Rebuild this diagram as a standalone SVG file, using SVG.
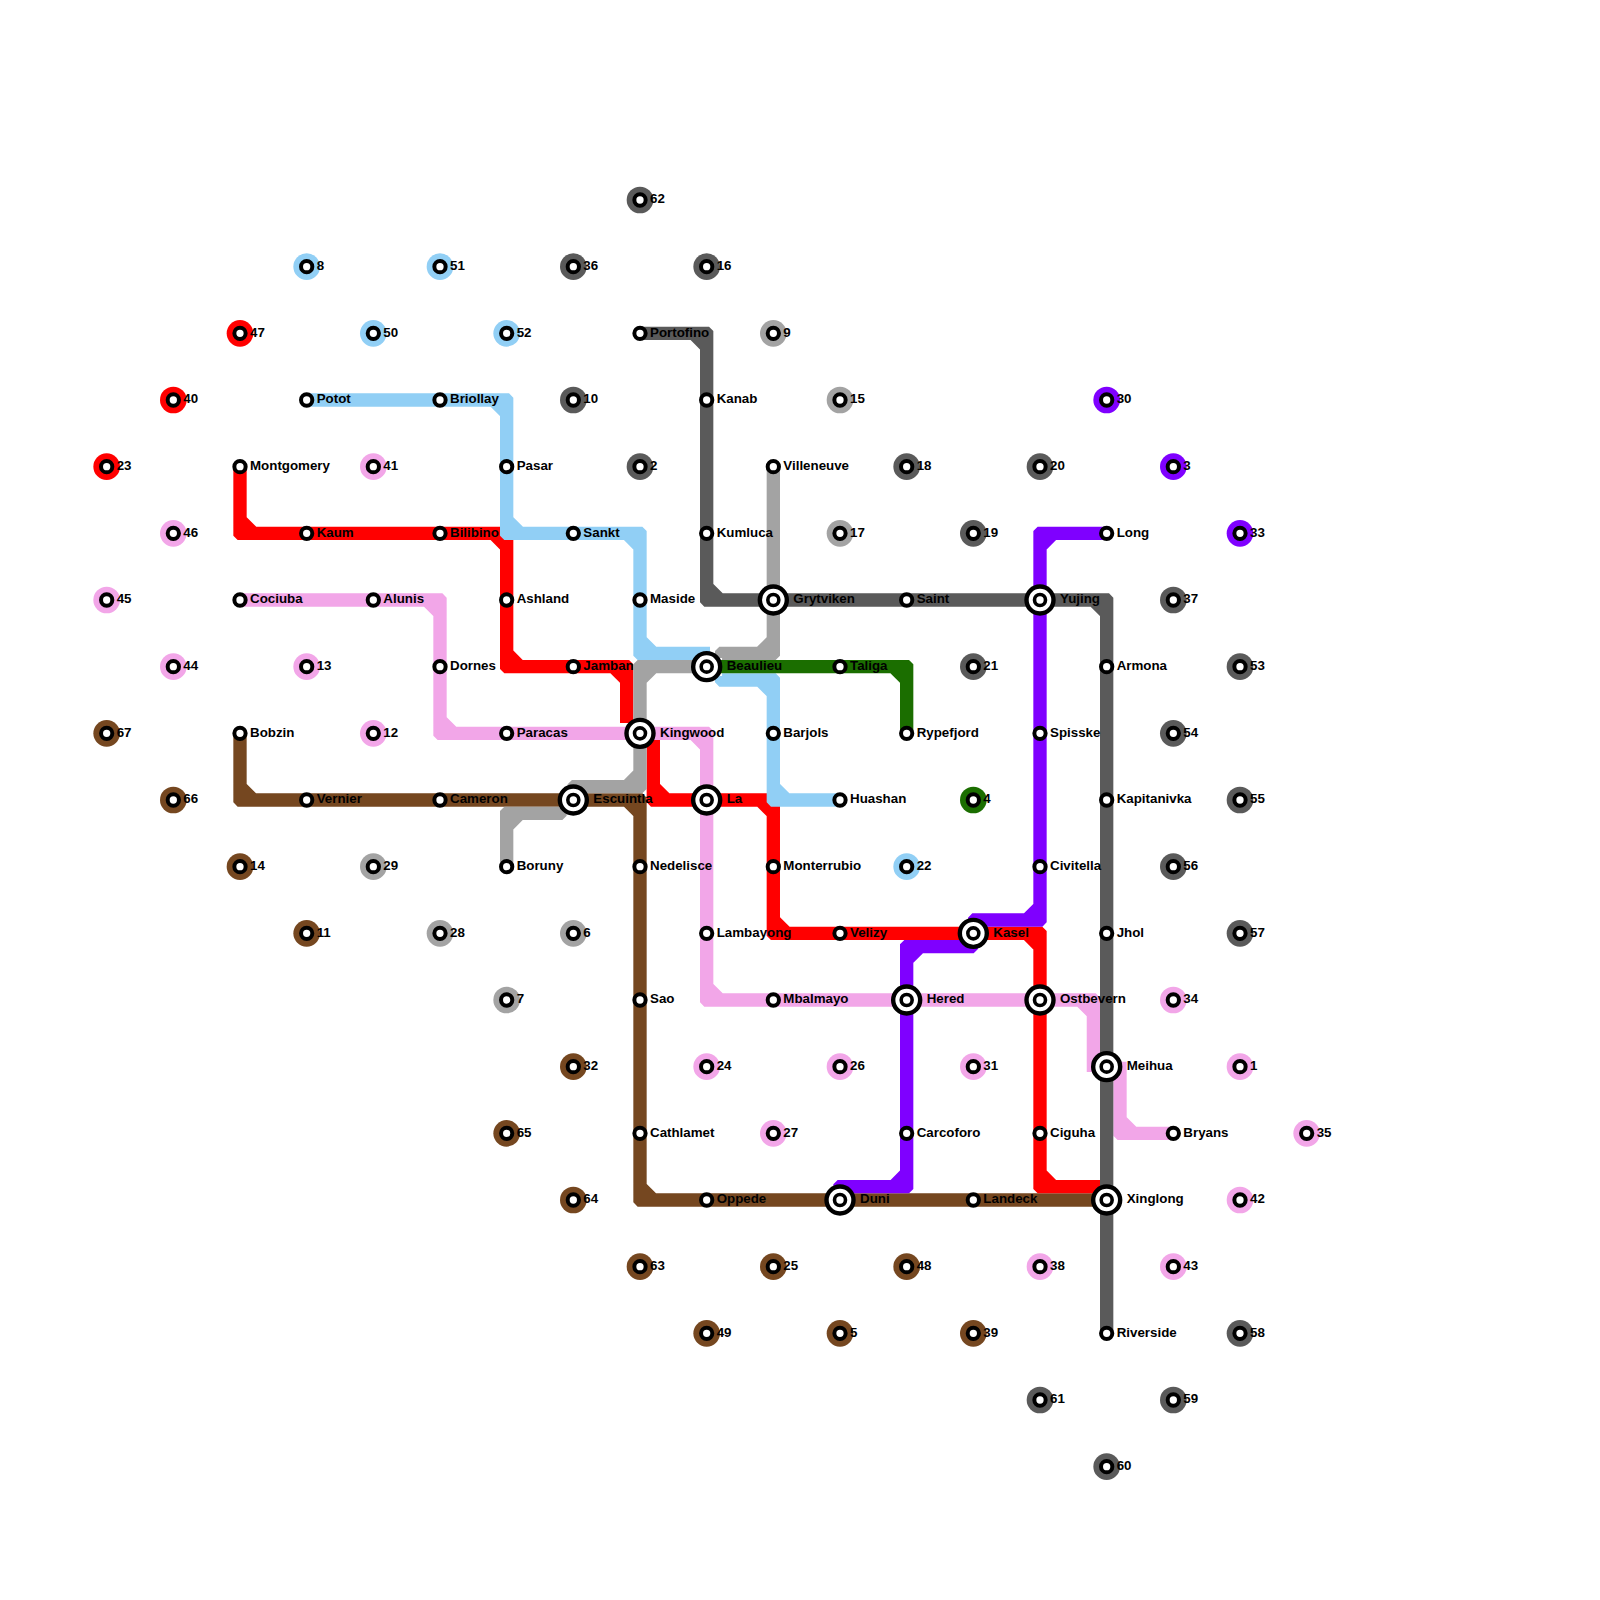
<svg xmlns="http://www.w3.org/2000/svg" width="1600" height="1600" viewBox="0 0 1600 1600">
<style>
.l{fill:none;stroke-width:13.33;stroke-linejoin:miter;stroke-linecap:butt}
.red{stroke:#ff0000}.blue{stroke:#91cff5}.pink{stroke:#f2a6e8}.brown{stroke:#754720}.grey{stroke:#a3a3a3}.dark{stroke:#5a5a5a}.green{stroke:#1b6e00}.purple{stroke:#7f00ff}
.fred{fill:#ff0000}.fblue{fill:#91cff5}.fpink{fill:#f2a6e8}.fbrown{fill:#754720}.fgrey{fill:#a3a3a3}.fdark{fill:#5a5a5a}.fgreen{fill:#1b6e00}.fpurple{fill:#7f00ff}
.s{fill:#fff;stroke:#000;stroke-width:4}
.o{stroke-width:4.4}
.i{stroke-width:3.6}
text{font-family:"Liberation Sans",Arial,sans-serif;font-weight:700;font-size:13.33px;fill:#000}
</style>
<defs>
<circle id="sm" class="s" r="5.65"/>
<g id="ix"><circle class="s o" r="13.5"/><circle class="s i" r="5.5"/></g>
<circle id="halo" r="13.33"/>
</defs>
<g id="connectors">
<path class="l pink" d="M240 600H439.6l.4.4V732.93l.4.4H706.27l.4.4V999.6l.4.4H1093l.4.4V1072M426.67 600L440 613.33M440 720L453.33 733.33M693.33 733.33L706.67 746.67M706.67 986.67L720 1000M1080 1000L1093.33 1013.33"/>
<path class="l pink" d="M1120 1061.67V1132.93l.4.4H1173.33M1120 1120L1133.33 1133.33"/>
<path class="l brown" d="M240 733.33V799.6l.4.4H639.6l.4.4V1199.6l.4.4H1106.67M240 786.67L253.33 800M626.67 800L640 813.33M640 1186.67L653.33 1200"/>
<path class="l red" d="M240 466.67V532.93l.4.4H506.27l.4.4V666.27l.4.4H626.27l.4.4V723M240 520L253.33 533.33M493.33 533.33L506.67 546.67M506.67 653.33L520 666.67M613.33 666.67L626.67 680"/>
<path class="l red" d="M653.33 740V799.6l.4.4H772.93l.4.4V932.93l.4.4H1039.6l.4.4V1186.27l.4.4H1104M653.33 786.67L666.67 800M760 800L773.33 813.33M773.33 920L786.67 933.33M1026.67 933.33L1040 946.67M1040 1173.33L1053.33 1186.67"/>
<path class="l blue" d="M306.67 400H506.27l.4.4V532.93l.4.4H639.6l.4.4V652.93l.4.4H710M493.33 400L506.67 413.33M506.67 520L520 533.33M626.67 533.33L640 546.67M640 640L653.33 653.33"/>
<path class="l blue" d="M721.67 676V679.6l.4.4H772.93l.4.4V799.6l.4.4H840M760 680L773.33 693.33M773.33 786.67L786.67 800"/>
<path class="l grey" d="M773.33 466.67V652.93l-.4.4H722.07l-.4.4V658M773.33 640L760 653.33"/>
<path class="l grey" d="M706.67 666.67H640.4l-.4.4V786.27l-.4.4H574.67l-.4.4V792M653.33 666.67L640 680M640 773.33L626.67 786.67"/>
<path class="l grey" d="M560 808V812.93l-.4.4H507.07l-.4.4V866.67M520 813.33L506.67 826.67"/>
<path class="l green" d="M706.67 666.67H906.27l.4.4V733.33M893.33 666.67L906.67 680"/>
<path class="l purple" d="M1106.67 533.33H1040.4l-.4.4V919.6l-.4.4H975.07l-.4.4V924M1053.33 533.33L1040 546.67M1040 906.67L1026.67 920"/>
<path class="l purple" d="M971.33 942V946.27l-.4.4H907.07l-.4.4V1186.27l-.4.4H840.4l-.4.4V1191M920 946.67L906.67 960M906.67 1173.33L893.33 1186.67"/>
<path class="l dark" d="M640 333.33H706.27l.4.4V599.6l.4.4H1106.27l.4.4V1333.33M693.33 333.33L706.67 346.67M706.67 586.67L720 600M1093.33 600L1106.67 613.33"/>
</g>
<g id="stations">
<g id="Potot" transform="translate(306.67,400)"><use href="#sm"/><text x="10" y="3.3">Potot</text></g>
<g id="Briollay" transform="translate(440,400)"><use href="#sm"/><text x="10" y="3.3">Briollay</text></g>
<g id="Pasar" transform="translate(506.67,466.67)"><use href="#sm"/><text x="10" y="3.3">Pasar</text></g>
<g id="Sankt" transform="translate(573.33,533.33)"><use href="#sm"/><text x="10" y="3.3">Sankt</text></g>
<g id="Maside" transform="translate(640,600)"><use href="#sm"/><text x="10" y="3.3">Maside</text></g>
<g id="Barjols" transform="translate(773.33,733.33)"><use href="#sm"/><text x="10" y="3.3">Barjols</text></g>
<g id="Huashan" transform="translate(840,800)"><use href="#sm"/><text x="10" y="3.3">Huashan</text></g>
<g id="Montgomery" transform="translate(240,466.67)"><use href="#sm"/><text x="10" y="3.3">Montgomery</text></g>
<g id="Kaum" transform="translate(306.67,533.33)"><use href="#sm"/><text x="10" y="3.3">Kaum</text></g>
<g id="Bilibino" transform="translate(440,533.33)"><use href="#sm"/><text x="10" y="3.3">Bilibino</text></g>
<g id="Ashland" transform="translate(506.67,600)"><use href="#sm"/><text x="10" y="3.3">Ashland</text></g>
<g id="Jamban" transform="translate(573.33,666.67)"><use href="#sm"/><text x="10" y="3.3">Jamban</text></g>
<g id="Monterrubio" transform="translate(773.33,866.67)"><use href="#sm"/><text x="10" y="3.3">Monterrubio</text></g>
<g id="Velizy" transform="translate(840,933.33)"><use href="#sm"/><text x="10" y="3.3">Velizy</text></g>
<g id="Ciguha" transform="translate(1040,1133.33)"><use href="#sm"/><text x="10" y="3.3">Ciguha</text></g>
<g id="Cociuba" transform="translate(240,600)"><use href="#sm"/><text x="10" y="3.3">Cociuba</text></g>
<g id="Alunis" transform="translate(373.33,600)"><use href="#sm"/><text x="10" y="3.3">Alunis</text></g>
<g id="Dornes" transform="translate(440,666.67)"><use href="#sm"/><text x="10" y="3.3">Dornes</text></g>
<g id="Paracas" transform="translate(506.67,733.33)"><use href="#sm"/><text x="10" y="3.3">Paracas</text></g>
<g id="Lambayong" transform="translate(706.67,933.33)"><use href="#sm"/><text x="10" y="3.3">Lambayong</text></g>
<g id="Mbalmayo" transform="translate(773.33,1000)"><use href="#sm"/><text x="10" y="3.3">Mbalmayo</text></g>
<g id="Bryans" transform="translate(1173.33,1133.33)"><use href="#sm"/><text x="10" y="3.3">Bryans</text></g>
<g id="Bobzin" transform="translate(240,733.33)"><use href="#sm"/><text x="10" y="3.3">Bobzin</text></g>
<g id="Vernier" transform="translate(306.67,800)"><use href="#sm"/><text x="10" y="3.3">Vernier</text></g>
<g id="Cameron" transform="translate(440,800)"><use href="#sm"/><text x="10" y="3.3">Cameron</text></g>
<g id="Nedelisce" transform="translate(640,866.67)"><use href="#sm"/><text x="10" y="3.3">Nedelisce</text></g>
<g id="Sao" transform="translate(640,1000)"><use href="#sm"/><text x="10" y="3.3">Sao</text></g>
<g id="Cathlamet" transform="translate(640,1133.33)"><use href="#sm"/><text x="10" y="3.3">Cathlamet</text></g>
<g id="Oppede" transform="translate(706.67,1200)"><use href="#sm"/><text x="10" y="3.3">Oppede</text></g>
<g id="Landeck" transform="translate(973.33,1200)"><use href="#sm"/><text x="10" y="3.3">Landeck</text></g>
<g id="Boruny" transform="translate(506.67,866.67)"><use href="#sm"/><text x="10" y="3.3">Boruny</text></g>
<g id="Villeneuve" transform="translate(773.33,466.67)"><use href="#sm"/><text x="10" y="3.3">Villeneuve</text></g>
<g id="Taliga" transform="translate(840,666.67)"><use href="#sm"/><text x="10" y="3.3">Taliga</text></g>
<g id="Rypefjord" transform="translate(906.67,733.33)"><use href="#sm"/><text x="10" y="3.3">Rypefjord</text></g>
<g id="Long" transform="translate(1106.67,533.33)"><use href="#sm"/><text x="10" y="3.3">Long</text></g>
<g id="Spisske" transform="translate(1040,733.33)"><use href="#sm"/><text x="10" y="3.3">Spisske</text></g>
<g id="Civitella" transform="translate(1040,866.67)"><use href="#sm"/><text x="10" y="3.3">Civitella</text></g>
<g id="Carcoforo" transform="translate(906.67,1133.33)"><use href="#sm"/><text x="10" y="3.3">Carcoforo</text></g>
<g id="Portofino" transform="translate(640,333.33)"><use href="#sm"/><text x="10" y="3.3">Portofino</text></g>
<g id="Kanab" transform="translate(706.67,400)"><use href="#sm"/><text x="10" y="3.3">Kanab</text></g>
<g id="Kumluca" transform="translate(706.67,533.33)"><use href="#sm"/><text x="10" y="3.3">Kumluca</text></g>
<g id="Saint" transform="translate(906.67,600)"><use href="#sm"/><text x="10" y="3.3">Saint</text></g>
<g id="Armona" transform="translate(1106.67,666.67)"><use href="#sm"/><text x="10" y="3.3">Armona</text></g>
<g id="Kapitanivka" transform="translate(1106.67,800)"><use href="#sm"/><text x="10" y="3.3">Kapitanivka</text></g>
<g id="Jhol" transform="translate(1106.67,933.33)"><use href="#sm"/><text x="10" y="3.3">Jhol</text></g>
<g id="Riverside" transform="translate(1106.67,1333.33)"><use href="#sm"/><text x="10" y="3.3">Riverside</text></g>
<g id="Grytviken" transform="translate(773.33,600)"><use href="#ix"/><text x="20" y="3.3">Grytviken</text></g>
<g id="Yujing" transform="translate(1040,600)"><use href="#ix"/><text x="20" y="3.3">Yujing</text></g>
<g id="Beaulieu" transform="translate(706.67,666.67)"><use href="#ix"/><text x="20" y="3.3">Beaulieu</text></g>
<g id="Kingwood" transform="translate(640,733.33)"><use href="#ix"/><text x="20" y="3.3">Kingwood</text></g>
<g id="Escuintla" transform="translate(573.33,800)"><use href="#ix"/><text x="20" y="3.3">Escuintla</text></g>
<g id="La" transform="translate(706.67,800)"><use href="#ix"/><text x="20" y="3.3">La</text></g>
<g id="Kasel" transform="translate(973.33,933.33)"><use href="#ix"/><text x="20" y="3.3">Kasel</text></g>
<g id="Hered" transform="translate(906.67,1000)"><use href="#ix"/><text x="20" y="3.3">Hered</text></g>
<g id="Ostbevern" transform="translate(1040,1000)"><use href="#ix"/><text x="20" y="3.3">Ostbevern</text></g>
<g id="Meihua" transform="translate(1106.67,1066.67)"><use href="#ix"/><text x="20" y="3.3">Meihua</text></g>
<g id="Xinglong" transform="translate(1106.67,1200)"><use href="#ix"/><text x="20" y="3.3">Xinglong</text></g>
<g id="Duni" transform="translate(840,1200)"><use href="#ix"/><text x="20" y="3.3">Duni</text></g>
</g>
<g id="terminals">
<g id="t62" class="fdark" transform="translate(640,200)"><use href="#halo"/><use href="#sm"/><text x="10" y="3.3">62</text></g>
<g id="t36" class="fdark" transform="translate(573.33,266.67)"><use href="#halo"/><use href="#sm"/><text x="10" y="3.3">36</text></g>
<g id="t16" class="fdark" transform="translate(706.67,266.67)"><use href="#halo"/><use href="#sm"/><text x="10" y="3.3">16</text></g>
<g id="t10" class="fdark" transform="translate(573.33,400)"><use href="#halo"/><use href="#sm"/><text x="10" y="3.3">10</text></g>
<g id="t2" class="fdark" transform="translate(640,466.67)"><use href="#halo"/><use href="#sm"/><text x="10" y="3.3">2</text></g>
<g id="t18" class="fdark" transform="translate(906.67,466.67)"><use href="#halo"/><use href="#sm"/><text x="10" y="3.3">18</text></g>
<g id="t20" class="fdark" transform="translate(1040,466.67)"><use href="#halo"/><use href="#sm"/><text x="10" y="3.3">20</text></g>
<g id="t19" class="fdark" transform="translate(973.33,533.33)"><use href="#halo"/><use href="#sm"/><text x="10" y="3.3">19</text></g>
<g id="t21" class="fdark" transform="translate(973.33,666.67)"><use href="#halo"/><use href="#sm"/><text x="10" y="3.3">21</text></g>
<g id="t37" class="fdark" transform="translate(1173.33,600)"><use href="#halo"/><use href="#sm"/><text x="10" y="3.3">37</text></g>
<g id="t53" class="fdark" transform="translate(1240,666.67)"><use href="#halo"/><use href="#sm"/><text x="10" y="3.3">53</text></g>
<g id="t54" class="fdark" transform="translate(1173.33,733.33)"><use href="#halo"/><use href="#sm"/><text x="10" y="3.3">54</text></g>
<g id="t55" class="fdark" transform="translate(1240,800)"><use href="#halo"/><use href="#sm"/><text x="10" y="3.3">55</text></g>
<g id="t56" class="fdark" transform="translate(1173.33,866.67)"><use href="#halo"/><use href="#sm"/><text x="10" y="3.3">56</text></g>
<g id="t57" class="fdark" transform="translate(1240,933.33)"><use href="#halo"/><use href="#sm"/><text x="10" y="3.3">57</text></g>
<g id="t58" class="fdark" transform="translate(1240,1333.33)"><use href="#halo"/><use href="#sm"/><text x="10" y="3.3">58</text></g>
<g id="t59" class="fdark" transform="translate(1173.33,1400)"><use href="#halo"/><use href="#sm"/><text x="10" y="3.3">59</text></g>
<g id="t60" class="fdark" transform="translate(1106.67,1466.67)"><use href="#halo"/><use href="#sm"/><text x="10" y="3.3">60</text></g>
<g id="t61" class="fdark" transform="translate(1040,1400)"><use href="#halo"/><use href="#sm"/><text x="10" y="3.3">61</text></g>
<g id="t8" class="fblue" transform="translate(306.67,266.67)"><use href="#halo"/><use href="#sm"/><text x="10" y="3.3">8</text></g>
<g id="t51" class="fblue" transform="translate(440,266.67)"><use href="#halo"/><use href="#sm"/><text x="10" y="3.3">51</text></g>
<g id="t50" class="fblue" transform="translate(373.33,333.33)"><use href="#halo"/><use href="#sm"/><text x="10" y="3.3">50</text></g>
<g id="t52" class="fblue" transform="translate(506.67,333.33)"><use href="#halo"/><use href="#sm"/><text x="10" y="3.3">52</text></g>
<g id="t22" class="fblue" transform="translate(906.67,866.67)"><use href="#halo"/><use href="#sm"/><text x="10" y="3.3">22</text></g>
<g id="t9" class="fgrey" transform="translate(773.33,333.33)"><use href="#halo"/><use href="#sm"/><text x="10" y="3.3">9</text></g>
<g id="t15" class="fgrey" transform="translate(840,400)"><use href="#halo"/><use href="#sm"/><text x="10" y="3.3">15</text></g>
<g id="t17" class="fgrey" transform="translate(840,533.33)"><use href="#halo"/><use href="#sm"/><text x="10" y="3.3">17</text></g>
<g id="t29" class="fgrey" transform="translate(373.33,866.67)"><use href="#halo"/><use href="#sm"/><text x="10" y="3.3">29</text></g>
<g id="t28" class="fgrey" transform="translate(440,933.33)"><use href="#halo"/><use href="#sm"/><text x="10" y="3.3">28</text></g>
<g id="t6" class="fgrey" transform="translate(573.33,933.33)"><use href="#halo"/><use href="#sm"/><text x="10" y="3.3">6</text></g>
<g id="t7" class="fgrey" transform="translate(506.67,1000)"><use href="#halo"/><use href="#sm"/><text x="10" y="3.3">7</text></g>
<g id="t47" class="fred" transform="translate(240,333.33)"><use href="#halo"/><use href="#sm"/><text x="10" y="3.3">47</text></g>
<g id="t40" class="fred" transform="translate(173.33,400)"><use href="#halo"/><use href="#sm"/><text x="10" y="3.3">40</text></g>
<g id="t23" class="fred" transform="translate(106.67,466.67)"><use href="#halo"/><use href="#sm"/><text x="10" y="3.3">23</text></g>
<g id="t41" class="fpink" transform="translate(373.33,466.67)"><use href="#halo"/><use href="#sm"/><text x="10" y="3.3">41</text></g>
<g id="t46" class="fpink" transform="translate(173.33,533.33)"><use href="#halo"/><use href="#sm"/><text x="10" y="3.3">46</text></g>
<g id="t45" class="fpink" transform="translate(106.67,600)"><use href="#halo"/><use href="#sm"/><text x="10" y="3.3">45</text></g>
<g id="t44" class="fpink" transform="translate(173.33,666.67)"><use href="#halo"/><use href="#sm"/><text x="10" y="3.3">44</text></g>
<g id="t13" class="fpink" transform="translate(306.67,666.67)"><use href="#halo"/><use href="#sm"/><text x="10" y="3.3">13</text></g>
<g id="t12" class="fpink" transform="translate(373.33,733.33)"><use href="#halo"/><use href="#sm"/><text x="10" y="3.3">12</text></g>
<g id="t34" class="fpink" transform="translate(1173.33,1000)"><use href="#halo"/><use href="#sm"/><text x="10" y="3.3">34</text></g>
<g id="t24" class="fpink" transform="translate(706.67,1066.67)"><use href="#halo"/><use href="#sm"/><text x="10" y="3.3">24</text></g>
<g id="t26" class="fpink" transform="translate(840,1066.67)"><use href="#halo"/><use href="#sm"/><text x="10" y="3.3">26</text></g>
<g id="t31" class="fpink" transform="translate(973.33,1066.67)"><use href="#halo"/><use href="#sm"/><text x="10" y="3.3">31</text></g>
<g id="t1" class="fpink" transform="translate(1240,1066.67)"><use href="#halo"/><use href="#sm"/><text x="10" y="3.3">1</text></g>
<g id="t27" class="fpink" transform="translate(773.33,1133.33)"><use href="#halo"/><use href="#sm"/><text x="10" y="3.3">27</text></g>
<g id="t35" class="fpink" transform="translate(1306.67,1133.33)"><use href="#halo"/><use href="#sm"/><text x="10" y="3.3">35</text></g>
<g id="t42" class="fpink" transform="translate(1240,1200)"><use href="#halo"/><use href="#sm"/><text x="10" y="3.3">42</text></g>
<g id="t38" class="fpink" transform="translate(1040,1266.67)"><use href="#halo"/><use href="#sm"/><text x="10" y="3.3">38</text></g>
<g id="t43" class="fpink" transform="translate(1173.33,1266.67)"><use href="#halo"/><use href="#sm"/><text x="10" y="3.3">43</text></g>
<g id="t67" class="fbrown" transform="translate(106.67,733.33)"><use href="#halo"/><use href="#sm"/><text x="10" y="3.3">67</text></g>
<g id="t66" class="fbrown" transform="translate(173.33,800)"><use href="#halo"/><use href="#sm"/><text x="10" y="3.3">66</text></g>
<g id="t14" class="fbrown" transform="translate(240,866.67)"><use href="#halo"/><use href="#sm"/><text x="10" y="3.3">14</text></g>
<g id="t11" class="fbrown" transform="translate(306.67,933.33)"><use href="#halo"/><use href="#sm"/><text x="10" y="3.3">11</text></g>
<g id="t32" class="fbrown" transform="translate(573.33,1066.67)"><use href="#halo"/><use href="#sm"/><text x="10" y="3.3">32</text></g>
<g id="t65" class="fbrown" transform="translate(506.67,1133.33)"><use href="#halo"/><use href="#sm"/><text x="10" y="3.3">65</text></g>
<g id="t64" class="fbrown" transform="translate(573.33,1200)"><use href="#halo"/><use href="#sm"/><text x="10" y="3.3">64</text></g>
<g id="t63" class="fbrown" transform="translate(640,1266.67)"><use href="#halo"/><use href="#sm"/><text x="10" y="3.3">63</text></g>
<g id="t25" class="fbrown" transform="translate(773.33,1266.67)"><use href="#halo"/><use href="#sm"/><text x="10" y="3.3">25</text></g>
<g id="t48" class="fbrown" transform="translate(906.67,1266.67)"><use href="#halo"/><use href="#sm"/><text x="10" y="3.3">48</text></g>
<g id="t49" class="fbrown" transform="translate(706.67,1333.33)"><use href="#halo"/><use href="#sm"/><text x="10" y="3.3">49</text></g>
<g id="t5" class="fbrown" transform="translate(840,1333.33)"><use href="#halo"/><use href="#sm"/><text x="10" y="3.3">5</text></g>
<g id="t39" class="fbrown" transform="translate(973.33,1333.33)"><use href="#halo"/><use href="#sm"/><text x="10" y="3.3">39</text></g>
<g id="t30" class="fpurple" transform="translate(1106.67,400)"><use href="#halo"/><use href="#sm"/><text x="10" y="3.3">30</text></g>
<g id="t3" class="fpurple" transform="translate(1173.33,466.67)"><use href="#halo"/><use href="#sm"/><text x="10" y="3.3">3</text></g>
<g id="t33" class="fpurple" transform="translate(1240,533.33)"><use href="#halo"/><use href="#sm"/><text x="10" y="3.3">33</text></g>
<g id="t4" class="fgreen" transform="translate(973.33,800)"><use href="#halo"/><use href="#sm"/><text x="10" y="3.3">4</text></g>
</g>
</svg>
